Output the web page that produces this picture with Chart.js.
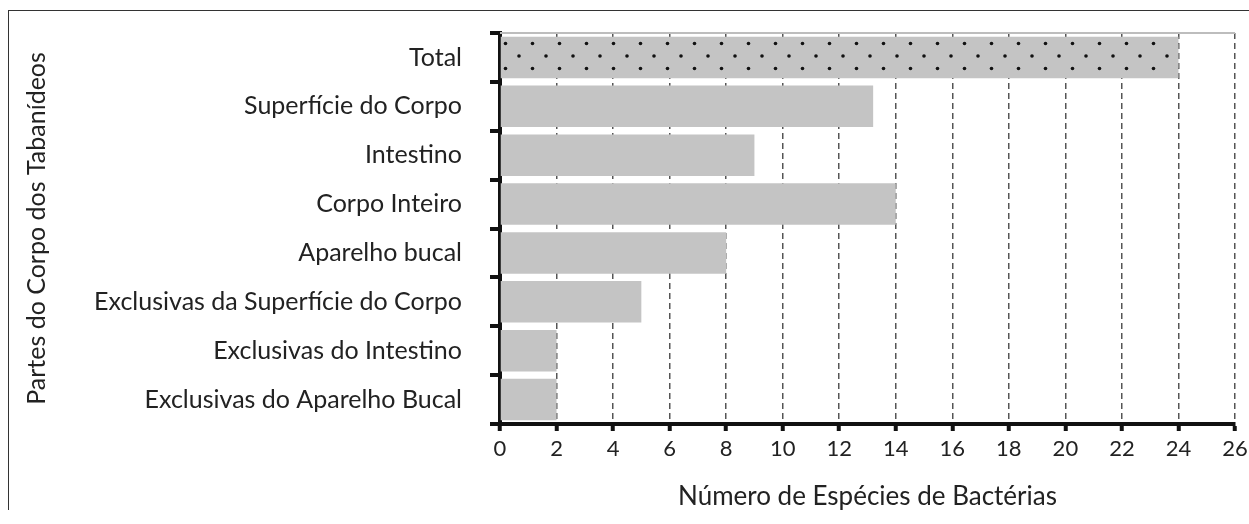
<!DOCTYPE html>
<html>
<head>
<meta charset="utf-8">
<script src="https://cdn.jsdelivr.net/npm/chart.js@4/dist/chart.umd.min.js"></script>
<style>
  html, body { margin: 0; padding: 0; background: #fff; }
  #wrap { position: relative; width: 1249px; height: 524px; }
  #frame { position: absolute; left: 8px; top: 10px; right: -2px; bottom: 14px;
           border-left: 1.5px solid #333; border-top: 1.5px solid #333; pointer-events: none; }
  canvas { position: absolute; left: 0; top: 0; }
</style>
</head>
<body>
<div id="wrap">
  <canvas id="chart" width="1249" height="524"></canvas>
  <div id="frame"></div>
</div>
<script>
// categorias (de cima para baixo)
const categories = [
  'Total',
  'Superfície do Corpo',
  'Intestino',
  'Corpo Inteiro',
  'Aparelho bucal',
  'Exclusivas da Superfície do Corpo',
  'Exclusivas do Intestino',
  'Exclusivas do Aparelho Bucal'
];
// número de espécies de bactérias
const speciesCounts = [24, 13.2, 9, 14, 8, 5, 2, 2];
const xTicks = [0, 2, 4, 6, 8, 10, 12, 14, 16, 18, 20, 22, 24, 26];

const FONT = 'Lato, "Open Sans", sans-serif';
const BAR_GRAY = '#c4c4c4';

// padrão pontilhado para a barra "Total"
function dotPattern() {
  const c = document.createElement('canvas');
  c.width = 27; c.height = 25;
  const g = c.getContext('2d');
  g.fillStyle = BAR_GRAY;
  g.fillRect(0, 0, c.width, c.height);
  g.fillStyle = '#111';
  [[6, 6], [19.5, 18.5]].forEach(([x, y]) => {
    g.beginPath(); g.arc(x, y, 1.8, 0, Math.PI * 2); g.fill();
  });
  return g.createPattern(c, 'repeat');
}

const colors = categories.map((c, i) => i === 0 ? dotPattern() : BAR_GRAY);

// linha cinza clara no topo da área do gráfico
const topLine = {
  id: 'topLine',
  beforeDatasetsDraw(chart) {
    const {ctx, chartArea} = chart;
    ctx.save();
    ctx.strokeStyle = '#bdbdbd';
    ctx.lineWidth = 2;
    ctx.beginPath();
    ctx.moveTo(chartArea.left, chartArea.top);
    ctx.lineTo(chartArea.right, chartArea.top);
    ctx.stroke();
    ctx.restore();
  }
};

new Chart(document.getElementById('chart').getContext('2d'), {
  type: 'bar',
  data: {
    labels: categories,
    datasets: [{
      data: speciesCounts,
      backgroundColor: colors,
      borderWidth: 0,
      categoryPercentage: 1,
      barPercentage: 0.85
    }]
  },
  options: {
    indexAxis: 'y',
    responsive: false,
    animation: false,
    layout: { padding: { left: 0, top: 33, right: 14, bottom: 0 } },
    plugins: { legend: { display: false }, tooltip: { enabled: false } },
    scales: {
      x: {
        min: 0, max: 26,
        afterBuildTicks: (scale) => { scale.ticks = xTicks.map(v => ({ value: v })); },
        afterFit: (scale) => { scale.height = 100; scale.paddingLeft = 0; scale.paddingRight = 0; },
        grid: {
          color: '#555', lineWidth: 1.5,
          tickColor: '#111', tickWidth: 4, tickLength: 7
        },
        border: { color: '#111', width: 4, dash: [6, 4] },
        ticks: { color: '#222', font: { family: FONT, size: 22 }, padding: 5 },
        title: {
          display: true, text: 'Número de Espécies de Bactérias',
          color: '#222', font: { family: FONT, size: 26 }, padding: { top: 2, bottom: 12 }
        }
      },
      y: {
        afterFit: (scale) => { scale.width = 500; scale.paddingTop = 0; scale.paddingBottom = 0; },
        grid: {
          offset: true, drawOnChartArea: false,
          color: '#111', lineWidth: 4,
          tickColor: '#111', tickWidth: 4, tickLength: 10
        },
        border: { color: '#111', width: 4 },
        ticks: { color: '#222', font: { family: FONT, size: 25 }, padding: 28 },
        title: {
          display: true, text: 'Partes do Corpo dos Tabanídeos',
          color: '#222', font: { family: FONT, size: 25 }, padding: { top: 22 }
        }
      }
    }
  },
  plugins: [topLine]
});
</script>
</body>
</html>
